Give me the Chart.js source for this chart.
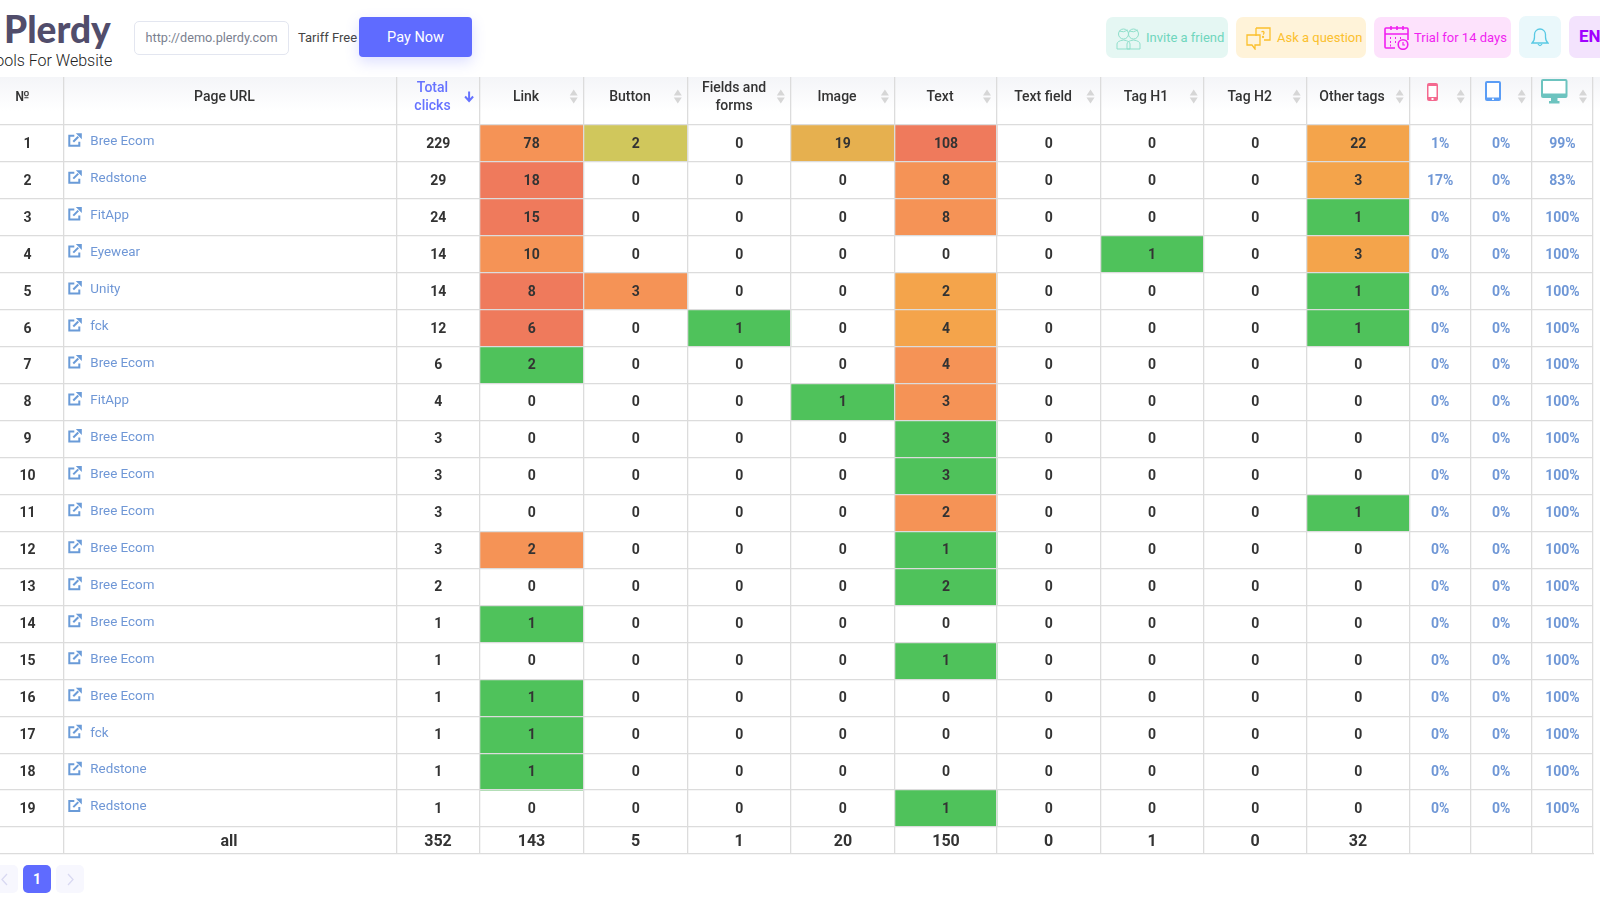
<!DOCTYPE html>
<html>
<head>
<meta charset="utf-8">
<title>Plerdy clicks table</title>
<script src="https://cdn.jsdelivr.net/npm/chart.js@4/dist/chart.umd.js"></script>
<style>
html, body { margin: 0; padding: 0; width: 1600px; height: 900px; overflow: hidden; background: #fff; font-family: Roboto, sans-serif; }
.abs { position: absolute; box-sizing: border-box; white-space: nowrap; }
.btn { display: flex; align-items: center; border-radius: 7px; font-size: 13px; height: 41px; top: 17px; }
.btn svg { flex: none; }
#tableHead { left: 0; top: 77px; width: 1600px; height: 34px; background: linear-gradient(#f4f5f8, #fff); }
#tableBox { left: 0; top: 77px; width: 1600px; height: 778px; }
.page { top: 865px; width: 28px; height: 28px; border-radius: 5px; background: #f7f7fe; display: flex; align-items: center; justify-content: center; }
</style>
</head>
<body>
<div class="abs" style="left:4px;top:6px;font:900 37px Lato,sans-serif;color:#514d6b;">Plerdy</div>
<div class="abs" style="left:-13.6px;top:51px;font:300 16px Roboto,sans-serif;color:#222;">Tools For Website</div>
<div class="abs" style="left:133.5px;top:21px;width:155px;height:34px;border:1.5px solid #e3e6f0;border-radius:5px;font-size:12.7px;line-height:32px;padding-left:11px;color:#7b7f8f;">http://demo.plerdy.com</div>
<div class="abs" style="left:298px;top:30px;font-size:13px;color:#444;">Tariff Free</div>
<div class="abs" style="left:359px;top:17px;width:113px;height:40px;border-radius:4px;background:#5f6bff;color:#fff;font-size:14.5px;line-height:42px;text-align:center;box-shadow:0 5px 14px rgba(95,107,255,.22);">Pay Now</div>

<div class="abs btn" style="left:1106px;width:122px;background:#e5f7f3;color:#6fd6bd;padding-left:10px;">
  <svg width="25" height="24" viewBox="0 0 25 24" fill="none" stroke="#8fdfcb" stroke-width="1"><circle cx="7.5" cy="8" r="5"/><circle cx="17.5" cy="8" r="5"/><path d="M1 23v-5q0-3 6.500-4 6.500 1 6.500 4v5zM11 23v-5q0-3 6.500-4 6.500 1 6.500 4v5z"/><path d="M3 5q4.500 2 9-1M13 5q4.500 2 9-1"/></svg>
  <span style="margin-left:5px;">Invite a friend</span>
</div>
<div class="abs btn" style="left:1236px;width:130px;background:#fff3d9;color:#fbc02d;padding-left:10px;">
  <svg width="25" height="24" viewBox="0 0 25 24" fill="none" stroke="#fbc02d" stroke-width="1.3"><path d="M10 2h14v12h-6M10 2v8"/><path d="M1 9h13v10H9v4l-3-4H1z"/><path d="M15.500 6q2-1.500 2.500.500 0 1.500-1 2"/><circle cx="17" cy="11" r=".5"/></svg>
  <span style="margin-left:6px;">Ask a question</span>
</div>
<div class="abs btn" style="left:1374px;width:137px;background:#fde2fc;color:#f01ff0;padding-left:10px;">
  <svg width="25" height="25" viewBox="0 0 25 25" fill="none" stroke="#f01ff0" stroke-width="1.6"><path d="M11 23H2q-1 0-1-1V4q0-1 1-1h21q1 0 1 1v11"/><path d="M1 9h23M7 1v4M13 1v4M19 1v4"/><path d="M6 13h1M11 13h1M16 13h1M6 17h1M11 17h1M6 20.500h1" stroke-width="2"/><circle cx="19" cy="19.500" r="4.800"/><path d="M19 17v3h2" stroke-width="1.200"/></svg>
  <span style="margin-left:5px;">Trial for 14 days</span>
</div>
<div class="abs" style="left:1519px;top:16px;width:42px;height:42px;border-radius:7px;background:#eaf8fb;display:flex;align-items:center;justify-content:center;">
  <svg width="18" height="20" viewBox="0 0 18 20" fill="none" stroke="#58c9e4" stroke-width="1.300"><path d="M1 16q2.500-2 2.500-6V7.500a5.500 5.500 0 0 1 11 0V10q0 4 2.500 6z"/><path d="M7 17q2 3 4 0"/></svg>
</div>
<div class="abs" style="left:1569px;top:16px;width:40px;height:42px;border-radius:7px;background:#f3e3fd;color:#a100ff;font:700 17px/40px Roboto,sans-serif;padding-left:10px;">EN</div>

<div id="tableHead" class="abs"></div>
<div id="tableBox" class="abs"><canvas id="clicksTable"></canvas></div>

<div class="abs page" style="left:-10px;"><svg width="9" height="13" viewBox="0 0 9 13" fill="none" stroke="#d9d9f2" stroke-width="1.300"><path d="M7 1L2 6.500 7 12"/></svg></div>
<div class="abs page" style="left:23px;background:#5f6bff;color:#fff;font:700 14px Roboto,sans-serif;">1</div>
<div class="abs page" style="left:56px;"><svg width="9" height="13" viewBox="0 0 9 13" fill="none" stroke="#d9d9f2" stroke-width="1.300"><path d="M2 1l5 5.500L2 12"/></svg></div>

<script>
const rowNumbers = ['1', '2', '3', '4', '5', '6', '7', '8', '9', '10', '11', '12', '13', '14', '15', '16', '17', '18', '19'];
const pageNames = ['Bree Ecom', 'Redstone', 'FitApp', 'Eyewear', 'Unity', 'fck', 'Bree Ecom', 'FitApp', 'Bree Ecom', 'Bree Ecom', 'Bree Ecom', 'Bree Ecom', 'Bree Ecom', 'Bree Ecom', 'Bree Ecom', 'Bree Ecom', 'fck', 'Redstone', 'Redstone'];
const totalClicks = [229, 29, 24, 14, 14, 12, 6, 4, 3, 3, 3, 3, 2, 1, 1, 1, 1, 1, 1];
const linkClicks = [78, 18, 15, 10, 8, 6, 2, 0, 0, 0, 0, 2, 0, 1, 0, 1, 1, 1, 0];
const buttonClicks = [2, 0, 0, 0, 3, 0, 0, 0, 0, 0, 0, 0, 0, 0, 0, 0, 0, 0, 0];
const fieldClicks = [0, 0, 0, 0, 0, 1, 0, 0, 0, 0, 0, 0, 0, 0, 0, 0, 0, 0, 0];
const imageClicks = [19, 0, 0, 0, 0, 0, 0, 1, 0, 0, 0, 0, 0, 0, 0, 0, 0, 0, 0];
const textClicks = [108, 8, 8, 0, 2, 4, 4, 3, 3, 3, 2, 1, 2, 0, 1, 0, 0, 0, 1];
const textFieldClicks = [0, 0, 0, 0, 0, 0, 0, 0, 0, 0, 0, 0, 0, 0, 0, 0, 0, 0, 0];
const tagH1Clicks = [0, 0, 0, 1, 0, 0, 0, 0, 0, 0, 0, 0, 0, 0, 0, 0, 0, 0, 0];
const tagH2Clicks = [0, 0, 0, 0, 0, 0, 0, 0, 0, 0, 0, 0, 0, 0, 0, 0, 0, 0, 0];
const otherTagClicks = [22, 3, 1, 3, 1, 1, 0, 0, 0, 0, 1, 0, 0, 0, 0, 0, 0, 0, 0];
const mobileShare = [1, 17, 0, 0, 0, 0, 0, 0, 0, 0, 0, 0, 0, 0, 0, 0, 0, 0, 0];
const tabletShare = [0, 0, 0, 0, 0, 0, 0, 0, 0, 0, 0, 0, 0, 0, 0, 0, 0, 0, 0];
const desktopShare = [99, 83, 100, 100, 100, 100, 100, 100, 100, 100, 100, 100, 100, 100, 100, 100, 100, 100, 100];
const headerLabels = ['№', 'Page URL', ['Total', 'clicks'], 'Link', 'Button', ['Fields and', 'forms'], 'Image', 'Text', 'Text field', 'Tag H1', 'Tag H2', 'Other tags'];
const footerLabels = ['all', '352', '143', '5', '1', '20', '150', '0', '1', '0', '32'];

// heat grade of each cell: 0 none, 1 green, 2 yellow, 3 gold, 4 light orange, 5 orange, 6 red
const linkHeat = [5, 6, 6, 5, 6, 6, 1, 0, 0, 0, 0, 5, 0, 1, 0, 1, 1, 1, 0];
const buttonHeat = [2, 0, 0, 0, 5, 0, 0, 0, 0, 0, 0, 0, 0, 0, 0, 0, 0, 0, 0];
const fieldHeat = [0, 0, 0, 0, 0, 1, 0, 0, 0, 0, 0, 0, 0, 0, 0, 0, 0, 0, 0];
const imageHeat = [3, 0, 0, 0, 0, 0, 0, 1, 0, 0, 0, 0, 0, 0, 0, 0, 0, 0, 0];
const textHeat = [6, 5, 5, 0, 4, 4, 5, 5, 1, 1, 5, 1, 1, 0, 1, 0, 0, 0, 1];
const tagH1Heat = [0, 0, 0, 1, 0, 0, 0, 0, 0, 0, 0, 0, 0, 0, 0, 0, 0, 0, 0];
const otherTagHeat = [4, 4, 1, 4, 1, 1, 0, 0, 0, 0, 1, 0, 0, 0, 0, 0, 0, 0, 0];

// layout and styles
const columnEdges = [0, 63.3, 397, 479.6, 583.7, 687.8, 790.8, 894.9, 997, 1100.5, 1203.7, 1306.7, 1409.7, 1470.7, 1531.7, 1593];
const headerCentres = [22.5, 224.5, 432.5, 526, 630, 734, 837, 940, 1043, 1146, 1249.7, 1352];
const footerCentres = [229, 438, 531.5, 635.5, 739, 843, 946, 1048.5, 1152, 1255, 1358];
const heatColors = ['rgba(0,0,0,0)', '#4fc25b', '#d0c75c', '#e6b04f', '#f4a44b', '#f59356', '#ef7a5c'];
const lineColor = '#dcdcdc';
const inkColor = '#333333';
const linkColor = '#6f97d6';
const accentColor = '#6673ff';
const headHeight = 47.7;
const footHeight = 27;

const zeroHeat = rowNumbers.map(() => 0);
const asText = (values) => values.map((v) => String(v));
const asShare = (values) => values.map((v) => v + '%');

const columns = [
    { label: 'Page URL', text: pageNames, heat: zeroHeat, kind: 'page' },
    { label: 'Total clicks', text: asText(totalClicks), heat: zeroHeat },
    { label: 'Link', text: asText(linkClicks), heat: linkHeat },
    { label: 'Button', text: asText(buttonClicks), heat: buttonHeat },
    { label: 'Fields and forms', text: asText(fieldClicks), heat: fieldHeat },
    { label: 'Image', text: asText(imageClicks), heat: imageHeat },
    { label: 'Text', text: asText(textClicks), heat: textHeat },
    { label: 'Text field', text: asText(textFieldClicks), heat: zeroHeat },
    { label: 'Tag H1', text: asText(tagH1Clicks), heat: tagH1Heat },
    { label: 'Tag H2', text: asText(tagH2Clicks), heat: zeroHeat },
    { label: 'Other tags', text: asText(otherTagClicks), heat: otherTagHeat },
    { label: 'Mobile', text: asShare(mobileShare), heat: zeroHeat, kind: 'share' },
    { label: 'Tablet', text: asShare(tabletShare), heat: zeroHeat, kind: 'share' },
    { label: 'Desktop', text: asShare(desktopShare), heat: zeroHeat, kind: 'share' },
];

const datasets = columns.map((col, c) => ({
    label: col.label,
    data: rowNumbers.map(() => [columnEdges[c + 1], columnEdges[c + 2]]),
    backgroundColor: col.heat.map((h) => heatColors[h]),
    borderWidth: 0,
    grouped: false,
    barPercentage: 1,
    categoryPercentage: 1,
    xAxisID: 'x',
    yAxisID: 'y',
}));

function setTicks(values) {
    return (scale) => {
        scale.ticks = values.map((v) => ({ value: v }));
    };
}

// the label axes must not push the chart area in from the sides
function setHeight(h) {
    return (scale) => {
        scale.height = h;
        scale.paddingLeft = 0;
        scale.paddingRight = 0;
    };
}

// every horizontal scale runs in the same units as the table columns
function columnAxis(position, weight, extra) {
    return Object.assign({
        type: 'linear',
        axis: 'x',
        position,
        weight,
        min: 0,
        max: 1593,
        border: { display: false },
        grid: { display: false, drawTicks: false },
        ticks: { display: false },
    }, extra);
}

function linkIcon(ctx, x, y) {
    ctx.strokeStyle = '#6a9bd8';
    ctx.fillStyle = '#6a9bd8';
    ctx.lineWidth = 2;
    ctx.beginPath();
    ctx.moveTo(x + 6, y + 2);
    ctx.lineTo(x + 1, y + 2);
    ctx.lineTo(x + 1, y + 12);
    ctx.lineTo(x + 11, y + 12);
    ctx.lineTo(x + 11, y + 8);
    ctx.stroke();
    ctx.beginPath();
    ctx.moveTo(x + 5, y + 8);
    ctx.lineTo(x + 10, y + 3);
    ctx.stroke();
    ctx.beginPath();
    ctx.moveTo(x + 7.5, y - 0.5);
    ctx.lineTo(x + 13.5, y - 0.5);
    ctx.lineTo(x + 13.5, y + 5.5);
    ctx.closePath();
    ctx.fill();
}

function sortArrows(ctx, x, y) {
    ctx.fillStyle = '#d6d6d6';
    ctx.beginPath();
    ctx.moveTo(x - 4, y - 1);
    ctx.lineTo(x, y - 7);
    ctx.lineTo(x + 4, y - 1);
    ctx.moveTo(x - 4, y + 1);
    ctx.lineTo(x, y + 7);
    ctx.lineTo(x + 4, y + 1);
    ctx.fill();
}

function deviceIcons(ctx, y) {
    // phone
    ctx.fillStyle = '#f4698f';
    ctx.beginPath();
    ctx.roundRect(1427, y + 6, 11, 18, 2);
    ctx.fill();
    ctx.fillStyle = '#fff';
    ctx.fillRect(1428.5, y + 9, 8, 11);
    ctx.fillRect(1431.5, y + 21, 2, 2);
    // tablet
    ctx.fillStyle = '#5b9df5';
    ctx.beginPath();
    ctx.roundRect(1485, y + 4, 16, 20, 2);
    ctx.fill();
    ctx.fillStyle = '#fff';
    ctx.fillRect(1487, y + 6, 12, 14.5);
    ctx.fillRect(1492, y + 21.5, 2, 1.5);
    // desktop
    ctx.fillStyle = '#6cc3bf';
    ctx.beginPath();
    ctx.roundRect(1541, y + 2, 26.5, 19, 2);
    ctx.fill();
    ctx.fillRect(1551, y + 21, 6.5, 3);
    ctx.fillRect(1549, y + 24, 10.5, 2.5);
    ctx.fillStyle = '#fff';
    ctx.fillRect(1543, y + 4, 22.5, 12.5);
}

const cellsPlugin = {
    id: 'cellsPlugin',
    afterDraw(chart) {
        const { ctx, scales } = chart;
        ctx.save();
        ctx.textBaseline = 'middle';
        columns.forEach((col, c) => {
            chart.getDatasetMeta(c).data.forEach((bar, r) => {
                const props = bar.getProps(['x', 'y', 'base'], true);
                if (col.kind === 'page') {
                    linkIcon(ctx, props.base + 5, props.y - 9.5);
                    ctx.font = '400 13.4px Roboto, sans-serif';
                    ctx.fillStyle = linkColor;
                    ctx.textAlign = 'left';
                    ctx.fillText(col.text[r], props.base + 27, props.y - 1.5);
                } else {
                    ctx.font = '700 14px Roboto, sans-serif';
                    ctx.fillStyle = col.kind === 'share' ? linkColor : inkColor;
                    ctx.textAlign = 'center';
                    ctx.fillText(col.text[r], (props.x + props.base) / 2, props.y + 1);
                }
            });
        });
        // header decorations
        const headTop = scales.y.top - headHeight;
        const arrowY = headTop + 19.5;
        columnEdges.slice(4).forEach((edge) => sortArrows(ctx, scales.x.getPixelForValue(edge) - 10, arrowY));
        deviceIcons(ctx, headTop);
        // active sort arrow on Total clicks
        const sortX = scales.x.getPixelForValue(columnEdges[3]) - 10.5;
        ctx.strokeStyle = accentColor;
        ctx.lineWidth = 2;
        ctx.beginPath();
        ctx.moveTo(sortX, arrowY - 5);
        ctx.lineTo(sortX, arrowY + 4);
        ctx.moveTo(sortX - 4, arrowY);
        ctx.lineTo(sortX, arrowY + 4.5);
        ctx.lineTo(sortX + 4, arrowY);
        ctx.stroke();
        ctx.restore();
    },
};

new Chart(document.getElementById('clicksTable'), {
    type: 'bar',
    data: { labels: rowNumbers, datasets },
    plugins: [cellsPlugin],
    options: {
        indexAxis: 'y',
        responsive: true,
        maintainAspectRatio: false,
        animation: false,
        layout: { padding: { top: 0, right: 7, bottom: 0.1, left: 0 } },
        plugins: { legend: { display: false }, tooltip: { enabled: false } },
        scales: {
            x: columnAxis('top', 0, {
                afterBuildTicks: setTicks(columnEdges.slice(1)),
                afterFit: setHeight(0),
                grid: { display: true, color: lineColor, lineWidth: 1.3, z: 1, tickLength: headHeight },
            }),
            xHead: columnAxis('top', 1, {
                afterBuildTicks: setTicks(headerCentres),
                afterFit: setHeight(headHeight),
                ticks: {
                    display: true,
                    autoSkip: false,
                    maxRotation: 0,
                    padding: 18.5,
                    crossAlign: 'center',
                    color: (ctx) => (ctx.index === 2 ? accentColor : inkColor),
                    font: { family: 'Roboto, sans-serif', size: 14, weight: 500, lineHeight: 1.3 },
                    callback: (value, index) => headerLabels[index],
                },
            }),
            xFootEdges: columnAxis('bottom', 0, {
                afterBuildTicks: setTicks(columnEdges.slice(1)),
                afterFit: setHeight(0),
                grid: { display: true, drawOnChartArea: false, color: lineColor, lineWidth: 1.3, tickLength: footHeight },
            }),
            xFoot: columnAxis('bottom', 1, {
                afterBuildTicks: setTicks(footerCentres),
                afterFit: setHeight(footHeight),
                ticks: {
                    display: true,
                    autoSkip: false,
                    maxRotation: 0,
                    padding: 5,
                    color: inkColor,
                    font: { family: 'Roboto, sans-serif', size: 16, weight: 700 },
                    callback: (value, index) => footerLabels[index],
                },
            }),
            xFootEnd: columnAxis('bottom', 2, {
                afterFit: setHeight(0),
                border: { display: true, color: lineColor, width: 1.3 },
                grid: { display: true, drawOnChartArea: false, drawTicks: false },
            }),
            y: {
                type: 'category',
                position: 'left',
                afterFit: (scale) => {
                    scale.width = 0;
                },
                border: { display: false },
                grid: { offset: true, color: lineColor, lineWidth: 1.3, z: 1, drawTicks: false },
                ticks: {
                    mirror: true,
                    crossAlign: 'center',
                    padding: 19.5,
                    labelOffset: 1,
                    color: inkColor,
                    font: { family: 'Roboto, sans-serif', size: 14, weight: 700 },
                },
            },
        },
    },
});
</script>
</body>
</html>
